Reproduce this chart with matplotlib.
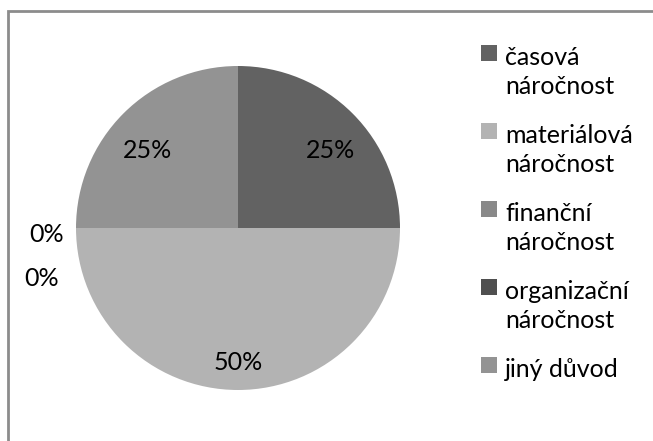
import matplotlib.pyplot as plt
from matplotlib.patches import Rectangle

# data
categories = ["časová\nnáročnost", "materiálová\nnáročnost", "finanční\nnáročnost",
              "organizační\nnáročnost", "jiný důvod"]
values = [25, 50, 0, 0, 25]
colors = ["#626262", "#b3b3b3", "#898989", "#4f4f4f", "#939393"]

W, H = 653, 441
plt.rcParams["font.family"] = ["Lato", "DejaVu Sans"]

fig = plt.figure(figsize=(W / 100, H / 100), dpi=100)

# outer chart frame (only left/top visible in the crop)
frame = Rectangle((8 / W, -0.1), 1.2, 1 - 11 / H + 0.1, transform=fig.transFigure,
                  fill=False, edgecolor="#8c8c8c", linewidth=2)
fig.patches.append(frame)

# pie axes, placed in pixels
cx, cy, r = 238, 228, 162
ax = fig.add_axes([(cx - r) / W, (H - cy - r) / H, 2 * r / W, 2 * r / H])
wedges, texts, autotexts = ax.pie(values, colors=colors, startangle=90, counterclock=False,
                                  autopct="%d%%", pctdistance=0.75,
                                  textprops=dict(fontsize=18, color="black"),
                                  wedgeprops=dict(linewidth=0))
ax.set_xlim(-1, 1)
ax.set_ylim(-1, 1)
ax.axis("off")

# adjust label positions like Excel's best fit
label_pos = [(0.57, 0.48), (0.0, -0.83), (-1.18, -0.04), (-1.21, -0.31), (-0.56, 0.48)]
for t, p in zip(autotexts, label_pos):
    t.set_position(p)

# legend drawn by hand so the square aligns with the first line
for i, (lab, col) in enumerate(zip(categories, colors)):
    top = 45 + i * 78
    fig.patches.append(Rectangle((481 / W, 1 - (top + 16) / H), 16 / W, 16 / H,
                                 transform=fig.transFigure, facecolor=col, edgecolor="none"))
    fig.text(505 / W, 1 - (top + 1) / H, lab, fontsize=18, va="top", ha="left",
             linespacing=1.32)

fig.savefig("out.png", dpi=100)
